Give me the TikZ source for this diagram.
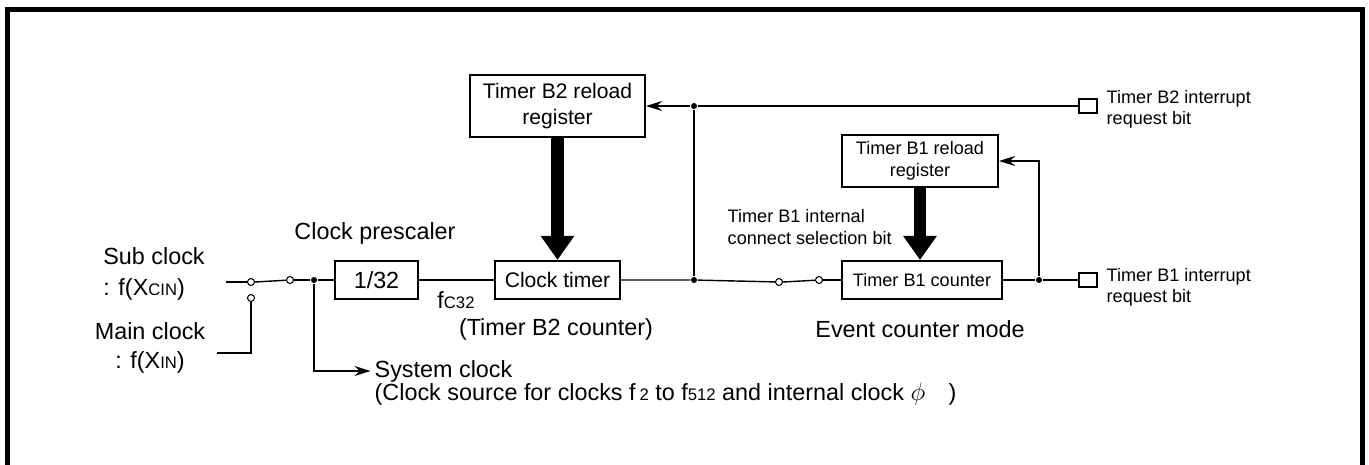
\documentclass[tikz,border=0pt]{standalone}
\usepackage{fontspec}
\setmainfont{Liberation Sans}
\usetikzlibrary{arrows.meta, positioning}
\newcommand{\lowsub}[1]{{\fontsize{9.5}{9.5}\selectfont #1}}

\begin{document}
\begin{tikzpicture}[
  x=0.02cm, y=-0.02cm,
  line width=0.8pt,
  blk/.style={rectangle, draw, line width=1.2pt, minimum width=1.66cm,
              minimum height=0.76cm, inner sep=1pt, align=center,
              font=\fontsize{12}{14.5}\selectfont},
  smallblk/.style={blk, font=\fontsize{10.3}{12.5}\selectfont},
  lbl/.style={inner sep=0pt, font=\fontsize{13.3}{16}\selectfont},
  note/.style={inner sep=0pt, align=left, font=\fontsize{10.3}{12}\selectfont},
  dot/.style={circle, fill, inner sep=0pt, minimum size=0.12cm},
  contact/.style={circle, draw, fill=white, line width=0.6pt, inner sep=0pt,
                  minimum size=0.14cm},
  flag/.style={rectangle, draw, line width=0.8pt, inner sep=0pt,
               minimum width=0.36cm, minimum height=0.28cm},
  arr/.style={-{Stealth[length=0.32cm, width=0.2cm]}},
  fatarr/.style={line width=0.25cm, -{Triangle[length=0.48cm, width=0.64cm]}},
]
  \useasboundingbox (0,0) rectangle (1369,464);
  % outer frame (open at the bottom)
  \draw[line width=0.1cm] (7.5,480) -- (7.5,9.5) -- (1362.5,9.5) -- (1362.5,480);

  % blocks
  \node[blk, font=\fontsize{13.3}{16}\selectfont] (div) at (376.5,280) {1/32};
  \node[blk, minimum width=2.5cm] (ctimer) at (557.5,280) {Clock timer};
  \node[blk, minimum width=3.5cm, minimum height=1.24cm] (b2reg) at (557.5,106)
       {Timer B2 reload\\register};
  \node[smallblk, minimum width=3.2cm] (b1cnt) at (922,280) {Timer B1 counter};
  \node[smallblk, minimum width=3.12cm, minimum height=1.04cm] (b1reg) at (920,161)
       {Timer B1 reload\\register};

  % switch contacts and junctions
  \node[contact] (s1a) at (251,282) {};
  \node[contact] (s1b) at (290,280) {};
  \node[contact] (s1c) at (251,298) {};
  \node[contact] (s2a) at (779,282) {};
  \node[contact] (s2b) at (819,280) {};
  \node[dot] (jn1) at (314,280) {};
  \node[dot] (jn2) at (694,280) {};
  \node[dot] (jn3) at (694,106) {};
  \node[dot] (jn4) at (1039,280) {};
  \node[flag] (irq2) at (1088,106) {};
  \node[flag] (irq1) at (1088,280) {};
  \coordinate (subin)  at (226,282);
  \coordinate (mainin) at (217,353);

  % labels
  \node[lbl, align=left, font=\fontsize{13.3}{18}\selectfont] (subclk) at (154,274)
       {Sub clock\\: f(X\lowsub{CIN})};
  \node[lbl, align=center, font=\fontsize{13.3}{16.5}\selectfont] (mainclk) at (150,348)
       {Main clock\\: f(X\lowsub{IN})};
  \node[lbl] (presc) at (375,233) {Clock prescaler};
  \node[lbl] (fc) at (456,300) {f\lowsub{C32}};
  \node[lbl] (b2cnt) at (556,329) {(Timer B2 counter)};
  \node[lbl] (evmode) at (920,329) {Event counter mode};
  \node[lbl, anchor=west] (sysclk) at (374,371) {System clock};
  \node[lbl, anchor=west] (srcnote) at (374,394)
       {(Clock source for clocks f\,\lowsub{2} to f\lowsub{512} and internal clock $\phi$\quad)};
  \node[note, anchor=west] (selbit) at (727,227)
       {Timer B1 internal\\connect selection bit};
  \node[note, anchor=west] (irq2txt) at (1106,109) {Timer B2 interrupt\\request bit};
  \node[note, anchor=west] (irq1txt) at (1106,287) {Timer B1 interrupt\\request bit};

  % connections
  \draw (subin) -- (s1a);
  \draw (mainin) -| (s1c);
  \draw (s1a.east) -- (s1b);
  \draw (s1b) -- (jn1) -- (div);
  \draw[arr] (jn1) |- ([xshift=-2pt]sysclk.west);
  \draw (div) -- (ctimer);
  \draw (ctimer) -- (jn2) -- (s2a);
  \draw (s2a.east) -- (s2b);
  \draw (s2b) -- (b1cnt);
  \draw (b1cnt) -- (jn4) -- (irq1);
  \draw (jn2) -- (jn3) -- (irq2);
  \draw[arr] (jn3) -- (b2reg.east);
  \draw[arr] (jn4) |- (b1reg.east);
  \draw[fatarr] (b2reg.south) -- (ctimer.north);
  \draw[fatarr] (b1reg.south) -- (b1reg.south |- b1cnt.north);
\end{tikzpicture}
\end{document}
